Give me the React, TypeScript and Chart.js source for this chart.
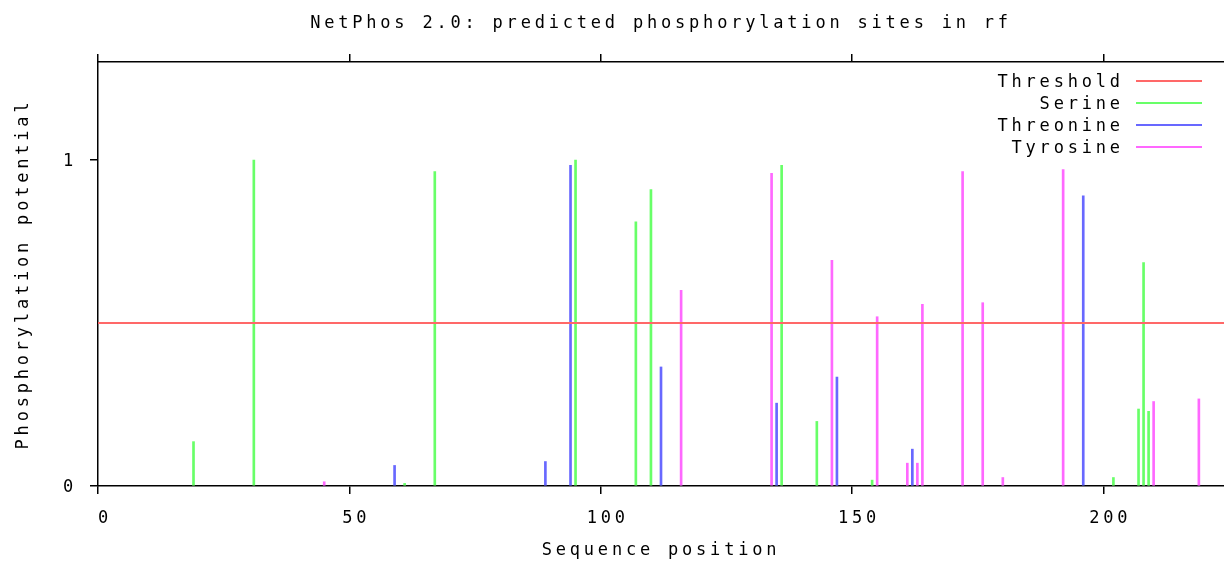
import React, { useEffect, useRef } from "react";
import { Chart, registerables } from "chart.js";

Chart.register(...registerables);

const xTicks = [0, 50, 100, 150, 200];
const yTicks = [0, 1];
const seqLength = 224;
const threshold = 0.5;

const serinePos = [19, 31, 61, 67, 95, 107, 110, 136, 143, 154, 202, 207, 208, 209];
const serineVal = [0.136, 0.999, 0.008, 0.964, 0.999, 0.81, 0.909, 0.983, 0.198, 0.018, 0.026, 0.236, 0.685, 0.229];

const threoninePos = [59, 89, 94, 112, 135, 147, 162, 196];
const threonineVal = [0.063, 0.075, 0.983, 0.365, 0.254, 0.334, 0.113, 0.89];

const tyrosinePos = [45, 116, 134, 146, 155, 161, 163, 164, 172, 176, 180, 192, 210, 219];
const tyrosineVal = [0.013, 0.6, 0.959, 0.692, 0.519, 0.07, 0.07, 0.557, 0.964, 0.562, 0.026, 0.97, 0.259, 0.267];

const titleText = "NetPhos 2.0: predicted phosphorylation sites in rf";
const xTitle = "Sequence position";
const yTitle = "Phosphorylation potential";

const FONT_FAMILY = "'DejaVu Sans Mono', monospace";
const FONT_SIZE = 17;
const LS = "3.8px";
const RED = "#ff6868";
const GREEN = "#68ff68";
const BLUE = "#6868ff";
const MAGENTA = "#ff68ff";

const font = { family: FONT_FAMILY, size: FONT_SIZE, lineHeight: 1.2 };

const spacingPlugin = {
  id: "spacing",
  beforeInit(chart: any) {
    chart.ctx.letterSpacing = LS;
  },
  beforeUpdate(chart: any) {
    chart.ctx.letterSpacing = LS;
  },
  beforeDraw(chart: any) {
    chart.ctx.letterSpacing = LS;
  },
};

const legendPlugin = {
  id: "gnuLegend",
  afterDatasetsDraw(chart: any) {
    const ctx = chart.ctx;
    const right = chart.chartArea.right;
    ctx.save();
    ctx.letterSpacing = LS;
    ctx.font = `${FONT_SIZE}px ${FONT_FAMILY}`;
    ctx.textAlign = "right";
    ctx.textBaseline = "middle";
    chart.data.datasets.forEach((ds: any, i: number) => {
      const y = 81 + i * 22;
      ctx.fillStyle = "#000";
      ctx.fillText(ds.label, right - 104 + 3.8, y + 2);
      ctx.strokeStyle = ds.legendColor;
      ctx.lineWidth = 2;
      ctx.beginPath();
      ctx.moveTo(right - 88, y);
      ctx.lineTo(right - 22, y);
      ctx.stroke();
    });
    ctx.restore();
  },
};

function toPoints(pos: number[], val: number[]) {
  return pos.map((p, i) => ({ x: p, y: val[i] }));
}

export default function App() {
  const ref = useRef<HTMLCanvasElement>(null);
  useEffect(() => {
    if (!ref.current) return;
    const axisGrid = {
      display: true,
      drawOnChartArea: false,
      drawTicks: true,
      tickLength: 8,
      offset: false,
      color: "#000",
      lineWidth: 1.5,
    };
    const axisBorder = { display: true, color: "#000", width: 1.5 };
    const setXTicks = (s: any) => {
      s.ticks = xTicks.map((v) => ({ value: v }));
    };
    const chart = new Chart(ref.current, {
      type: "bar",
      data: {
        datasets: [
          {
            type: "line",
            label: "Threshold",
            data: [
              { x: 0, y: threshold },
              { x: seqLength, y: threshold },
            ],
            borderColor: RED,
            borderWidth: 2,
            pointRadius: 0,
            legendColor: RED,
            xAxisID: "x",
          } as any,
          {
            label: "Serine",
            data: toPoints(serinePos, serineVal),
            backgroundColor: GREEN,
            legendColor: GREEN,
            barThickness: 2,
            grouped: false,
            xAxisID: "x",
          } as any,
          {
            label: "Threonine",
            data: toPoints(threoninePos, threonineVal),
            backgroundColor: BLUE,
            legendColor: BLUE,
            barThickness: 2,
            grouped: false,
            xAxisID: "x",
          } as any,
          {
            label: "Tyrosine",
            data: toPoints(tyrosinePos, tyrosineVal),
            backgroundColor: MAGENTA,
            legendColor: MAGENTA,
            barThickness: 2,
            grouped: false,
            xAxisID: "x",
          } as any,
        ],
      },
      options: {
        animation: false,
        responsive: false,
        devicePixelRatio: 1,
        layout: { padding: 0 },
        plugins: {
          legend: { display: false },
          title: { display: false },
          tooltip: { enabled: false },
        },
        scales: {
          x: {
            type: "linear",
            position: "bottom",
            min: 0,
            max: seqLength,
            offset: false,
            afterBuildTicks: setXTicks,
            afterFit: (s: any) => {
              s.height = 75;
            },
            grid: axisGrid,
            border: axisBorder,
            ticks: {
              color: "#000",
              font,
              padding: 14,
              maxRotation: 0,
              autoSkip: false,
              labelOffset: 7,
            },
            title: {
              display: true,
              text: xTitle,
              color: "#000",
              font,
              padding: { top: 0, bottom: 0 },
            },
          },
          x2: {
            type: "linear",
            position: "top",
            min: 0,
            max: seqLength,
            offset: false,
            afterBuildTicks: setXTicks,
            afterFit: (s: any) => {
              s.height = 62;
            },
            grid: axisGrid,
            border: axisBorder,
            ticks: { display: false },
            title: {
              display: true,
              text: titleText,
              color: "#000",
              font,
              padding: { top: 13.5, bottom: 0 },
            },
          },
          y: {
            type: "linear",
            position: "left",
            min: 0,
            max: 1.3,
            afterBuildTicks: (s: any) => {
              s.ticks = yTicks.map((v) => ({ value: v }));
            },
            afterFit: (s: any) => {
              s.width = 98;
            },
            grid: axisGrid,
            border: axisBorder,
            ticks: { color: "#000", font, padding: 13, labelOffset: 2 },
            title: {
              display: true,
              text: yTitle,
              color: "#000",
              font,
              padding: { top: 13.8, bottom: 0 },
            },
          },
        },
      } as any,
      plugins: [spacingPlugin, legendPlugin],
    });
    return () => chart.destroy();
  }, []);
  return (
    <div style={{ position: "fixed", left: 0, top: 0, width: 1224, height: 561, background: "#fff" }}>
      <canvas ref={ref} width={1224} height={561} />
    </div>
  );
}
